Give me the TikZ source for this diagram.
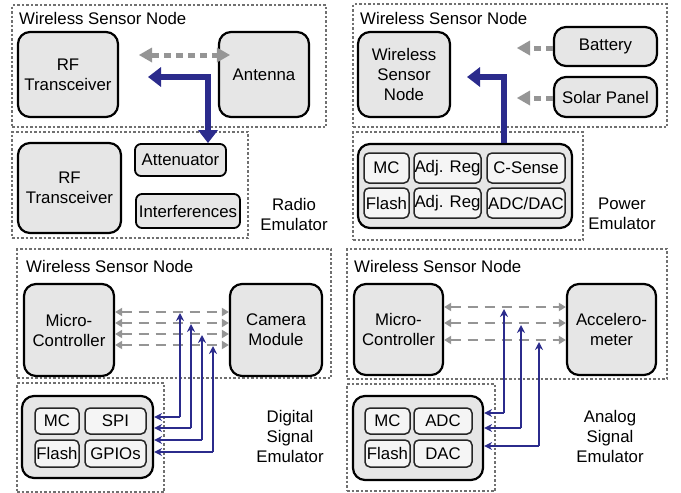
\documentclass[tikz,border=0pt]{standalone}
\usepackage{fontspec}
\setmainfont{Liberation Sans}
\usetikzlibrary{arrows.meta}
\definecolor{boxfill}{HTML}{E6E6E6}
\definecolor{subfill}{HTML}{F5F5F5}
\definecolor{darkblue}{HTML}{2B2B8C}
\definecolor{arrgray}{HTML}{959595}
\definecolor{framegray}{HTML}{707070}
\tikzset{
  every node/.style={font=\fontsize{16.8}{20}\selectfont, inner sep=0pt},
  frame/.style={draw=framegray, line width=1.1pt, dash pattern=on 2.5pt off 2pt, minimum width=#1},
  bigbox/.style={draw=black, fill=boxfill, line width=2.2pt, rounded corners=12pt, align=center},
  midbox/.style={draw=black, fill=boxfill, line width=1.8pt, rounded corners=6pt, align=center},
  subbox/.style={draw=black!85, fill=subfill, line width=1.5pt, rounded corners=5pt, align=center},
  title/.style={anchor=west},
  label/.style={align=center},
  thickblue/.style={draw=darkblue, line width=5.5pt, {Triangle[width=19pt,length=13pt]}-{Triangle[width=19pt,length=13pt]}},
  thickblueone/.style={draw=darkblue, line width=5.5pt, -{Triangle[width=19pt,length=13pt]}},
  graydot/.style={draw=arrgray, line width=5pt, dash pattern=on 7pt off 5pt},
  graydash/.style={draw=arrgray, line width=2.8pt, dash pattern=on 10pt off 7pt, {Triangle[width=8pt,length=7pt]}-{Triangle[width=8pt,length=7pt]}},
  thinblue/.style={draw=darkblue, line width=1.8pt, rounded corners=1pt, -{Stealth[width=8pt,length=8pt]}},
}
\begin{document}
\begin{tikzpicture}[x=1pt,y=-1pt]
\useasboundingbox (0,0) rectangle (681,493);

% ---------------- Panel 1: Radio ----------------
\node[frame=314pt, minimum height=122pt] (o1) at (169,66) {};
\node[title] (t1) at (19,18) {Wireless Sensor Node};
\node[bigbox, minimum width=100pt, minimum height=85pt] (rf1) at (68,74.5) {RF\\Transceiver};
\node[bigbox, minimum width=90pt, minimum height=85pt] (ant) at (264,74.5) {Antenna};
\node[frame=236pt, minimum height=106pt] (o1b) at (130,185) {};
\node[bigbox, minimum width=103pt, minimum height=90pt] (rf2) at (69.5,188) {RF\\Transceiver};
\node[midbox, minimum width=91pt, minimum height=32pt] (att) at (180.5,160) {Attenuator};
\node[midbox, minimum width=104pt, minimum height=34pt] (intf) at (188,211) {Interferences};
\node[label] (l1) at (294,214) {Radio\\Emulator};
\coordinate (g1) at (152,55);
\draw[graydot] (g1) -- (ant.west |- g1);
\fill[arrgray] (g1) ++(0,-7.5) -- ++(-13,7.5) -- ++(13,7.5) -- cycle;
\fill[arrgray] (ant.west |- g1) ++(-1,-7.5) -- ++(13,7.5) -- ++(-13,7.5) -- cycle;
\coordinate (b1) at (148,77);
\coordinate (b2) at (208,77);
\draw[thickblue] (b1) -- (b2) -- (b2 |- att.north);

% ---------------- Panel 2: Power ----------------
\node[frame=314pt, minimum height=123pt] (o2) at (510,65.5) {};
\node[title] (t2) at (360,18) {Wireless Sensor Node};
\node[bigbox, minimum width=92pt, minimum height=85pt] (wsn) at (404,74.5) {Wireless\\Sensor\\Node};
\node[bigbox, minimum width=103pt, minimum height=39pt] (bat) at (605.5,46.5) {Battery};
\node[bigbox, minimum width=103pt, minimum height=40pt] (sol) at (605.5,97) {Solar Panel};
\coordinate (g2) at (530,48);
\coordinate (g3) at (530,98);
\draw[graydot] (bat.west |- g2) -- (g2);
\fill[arrgray] (g2) ++(0,-7.5) -- ++(-13,7.5) -- ++(13,7.5) -- cycle;
\draw[graydot] (sol.west |- g3) -- (g3);
\fill[arrgray] (g3) ++(0,-7.5) -- ++(-13,7.5) -- ++(13,7.5) -- cycle;
\node[frame=230pt, minimum height=108pt] (o2b) at (468,186) {};
\node[bigbox, minimum width=214pt, minimum height=84pt] (pbig) at (465,186) {};
\node[subbox, minimum width=45pt, minimum height=30pt] (pmc) at (386.5,168) {MC};
\node[subbox, minimum width=67pt, minimum height=30pt] (padj1) at (447.5,168) {Adj. Reg};
\node[subbox, minimum width=78pt, minimum height=30pt] (pcs) at (526,168) {C-Sense};
\node[subbox, minimum width=45pt, minimum height=30pt] (pfl) at (386.5,203) {Flash};
\node[subbox, minimum width=67pt, minimum height=30pt] (padj2) at (447.5,203) {Adj. Reg};
\node[subbox, minimum width=78pt, minimum height=30pt] (padc) at (526,203) {ADC/DAC};
\node[label] (l2) at (622,214) {Power\\Emulator};
\coordinate (p1) at (504,77);
\coordinate (p2) at (467,77);
\draw[thickblueone] (pbig.north -| p1) -- (p1) -- (p2);

% ---------------- Panel 3: Digital ----------------
\node[frame=314pt, minimum height=129pt] (o3) at (174,313.5) {};
\node[title] (t3) at (26,266) {Wireless Sensor Node};
\node[bigbox, minimum width=90pt, minimum height=92pt] (mc3) at (69,330) {Micro-\\Controller};
\node[bigbox, minimum width=92pt, minimum height=92pt] (cam) at (276,330) {Camera\\Module};
\foreach \i/\y in {1/312,2/323,3/334,4/345} {
  \coordinate (dg\i) at (0,\y);
  \draw[graydash] (mc3.east |- dg\i) -- (cam.west |- dg\i);
}
\node[frame=147pt, minimum height=109pt] (o3b) at (90.5,437.5) {};
\node[bigbox, minimum width=131pt, minimum height=82pt] (dbig) at (87.5,437) {};
\node[subbox, minimum width=44pt, minimum height=26pt] (dmc) at (57,421) {MC};
\node[subbox, minimum width=61pt, minimum height=26pt] (dspi) at (115.5,421) {SPI};
\node[subbox, minimum width=44pt, minimum height=27pt] (dfl) at (57,453.5) {Flash};
\node[subbox, minimum width=61pt, minimum height=27pt] (dgp) at (115.5,453.5) {GPIOs};
\node[label] (l3) at (290,436) {Digital\\Signal\\Emulator};
\foreach \i/\x/\ty/\by in {1/180/313/417,2/191/324/428,3/202/335/440,4/213/346/452} {
  \coordinate (dt\i) at (\x,\ty);
  \coordinate (db\i) at (\x,\by);
  \draw[thinblue] (db\i) -- (dt\i);
  \draw[thinblue] (db\i) -- (dbig.east |- db\i);
}

% ---------------- Panel 4: Analog ----------------
\node[frame=320pt, minimum height=130pt] (o4) at (507,314) {};
\node[title] (t4) at (354,266) {Wireless Sensor Node};
\node[bigbox, minimum width=89pt, minimum height=91pt] (mc4) at (398.5,329.5) {Micro-\\Controller};
\node[bigbox, minimum width=89pt, minimum height=91pt] (acc) at (611.5,329.5) {Accelero-\\meter};
\foreach \i/\y in {1/307,2/323,3/340} {
  \coordinate (ag\i) at (0,\y);
  \draw[graydash] (mc4.east |- ag\i) -- (acc.west |- ag\i);
}
\node[frame=148pt, minimum height=107pt] (o4b) at (421,437.5) {};
\node[bigbox, minimum width=130pt, minimum height=84pt] (abig) at (418,438) {};
\node[subbox, minimum width=45pt, minimum height=26pt] (amc) at (387.5,421) {MC};
\node[subbox, minimum width=58pt, minimum height=26pt] (aadc) at (443,421) {ADC};
\node[subbox, minimum width=45pt, minimum height=27pt] (afl) at (387.5,453.5) {Flash};
\node[subbox, minimum width=58pt, minimum height=27pt] (adac) at (443,453.5) {DAC};
\node[label] (l4) at (610,436) {Analog\\Signal\\Emulator};
\foreach \i/\x/\ty/\by in {1/504/309/413,2/521/325/428,3/539/342/446} {
  \coordinate (at\i) at (\x,\ty);
  \coordinate (ab\i) at (\x,\by);
  \draw[thinblue] (ab\i) -- (at\i);
  \draw[thinblue] (ab\i) -- (abig.east |- ab\i);
}
\end{tikzpicture}
\end{document}
